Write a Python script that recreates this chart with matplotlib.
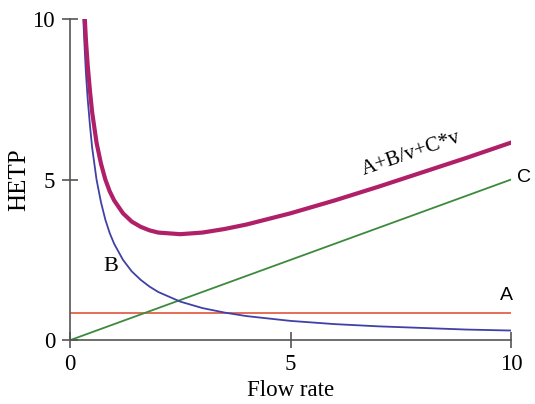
import matplotlib
matplotlib.use('Agg')
from matplotlib import pyplot as plt

# readings
flow = [0.3, 0.33, 0.36, 0.4, 0.45, 0.5, 0.6, 0.7, 0.8, 0.9, 1.0, 1.2, 1.4, 1.6,
        1.8, 2.0, 2.5, 3.0, 3.5, 4.0, 5.0, 6.0, 7.0, 8.0, 9.0, 10.0]
b_term = [10.0, 9.1, 8.3, 7.5, 6.7, 6.0, 5.0, 4.3, 3.75, 3.33, 3.0, 2.5, 2.14, 1.88,
          1.67, 1.5, 1.2, 1.0, 0.86, 0.75, 0.6, 0.5, 0.43, 0.38, 0.33, 0.3]
total = [11.0, 10.1, 9.33, 8.55, 7.77, 7.1, 6.15, 5.5, 5.0, 4.63, 4.35, 3.95, 3.69, 3.53,
         3.42, 3.35, 3.3, 3.35, 3.46, 3.6, 3.95, 4.35, 4.78, 5.23, 5.68, 6.15]
c_x = [0, 10]
c_y = [0, 5]
a_x = [0, 10]
a_y = [0.85, 0.85]

plt.rcParams['font.family'] = ['Liberation Serif', 'DejaVu Serif']

fig = plt.figure(figsize=(5.35, 4.04), dpi=100)
ax = fig.add_axes([0.131, 0.158, 0.824, 0.795])

ax.plot(a_x, a_y, color='#e0553a', lw=1.2)
ax.plot(c_x, c_y, color='#3c8a3c', lw=1.3)
ax.plot(flow, b_term, color='#4040a8', lw=1.3)
ax.plot(flow, total, color='#b02068', lw=3)

ax.set_xlim(0, 10)
ax.set_ylim(0, 10)
ax.set_xticks([0, 5, 10])
ax.set_yticks([0, 5, 10])
ax.tick_params(direction='inout', length=11.5, width=1.2, colors='#555555',
               labelcolor='black', labelsize=16.5)
ax.tick_params(axis='y', pad=5)
ax.tick_params(axis='x', pad=4)
for s in ['top', 'right']:
    ax.spines[s].set_visible(False)
for s in ['left', 'bottom']:
    ax.spines[s].set_color('#555555')
    ax.spines[s].set_linewidth(1.2)

ax.set_xlabel('Flow rate', fontsize=16.5, labelpad=4)
ax.set_ylabel('HETP', fontsize=18, labelpad=2)

ax.text(7.75, 5.8, 'A+B/v+C*v', fontsize=15, rotation=19, ha='center', va='center')
ax.text(10.3, 5.05, 'C', fontsize=14, family='Liberation Sans', ha='center', va='center',
        clip_on=False)
ax.text(9.9, 1.4, 'A', fontsize=14, family='Liberation Sans', ha='center', va='center')
ax.text(0.93, 2.3, 'B', fontsize=16, ha='center', va='center')

fig.savefig('out.png', dpi=100)
